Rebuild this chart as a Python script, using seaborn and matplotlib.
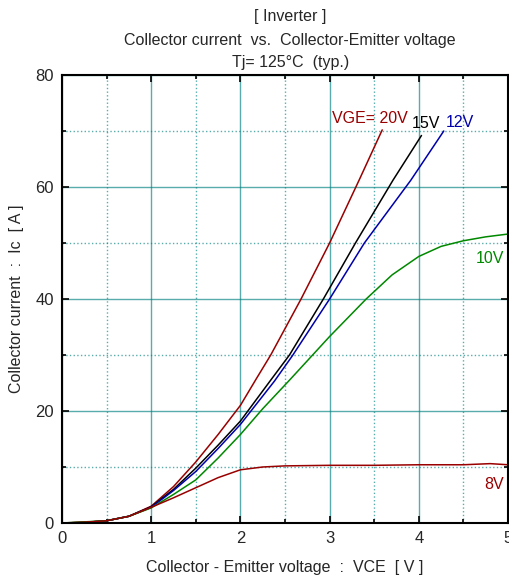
import numpy as np
import pandas as pd
import matplotlib
matplotlib.use("Agg")
import matplotlib.pyplot as plt
from matplotlib.ticker import MultipleLocator
import seaborn as sns

# VCE [V] / Ic [A], one pair of lists per gate voltage
vce_20 = [0, 0.25, 0.5, 0.75, 1.0, 1.25, 1.5, 1.75, 2.0, 2.18, 2.34, 2.68, 3.0, 3.33, 3.59]
ic_20 = [0, 0.1, 0.4, 1.2, 3.0, 6.5, 10.9, 15.8, 21.0, 25.8, 30, 40, 50, 61.2, 70.2]

vce_15 = [0, 0.25, 0.5, 0.75, 1.0, 1.25, 1.5, 1.75, 2.0, 2.33, 2.55, 2.93, 3.29, 3.71, 4.03]
ic_15 = [0, 0.1, 0.4, 1.2, 2.9, 6.0, 9.8, 13.9, 18.2, 25.3, 30, 40, 50, 61.2, 69.2]

vce_12 = [0, 0.25, 0.5, 0.75, 1.0, 1.25, 1.5, 1.75, 2.0, 2.38, 2.58, 3.0, 3.39, 3.91, 4.28]
ic_12 = [0, 0.1, 0.4, 1.2, 2.8, 5.8, 9.2, 13.3, 17.6, 25.3, 29.8, 40, 50, 61.2, 70]

vce_10 = [0, 0.25, 0.5, 0.75, 1.0, 1.25, 1.5, 1.75, 2.0, 2.25, 2.55, 3.0, 3.41, 3.7, 4.0, 4.25, 4.5, 4.75, 5.0]
ic_10 = [0, 0.2, 0.4, 1.2, 2.7, 5.1, 7.7, 11.6, 15.8, 20.4, 25.5, 33.3, 40, 44.3, 47.6, 49.4, 50.4, 51.1, 51.6]

vce_8 = [0, 0.25, 0.5, 0.75, 1.0, 1.25, 1.5, 1.75, 2.0, 2.25, 2.5, 3.0, 3.5, 4.0, 4.5, 4.8, 5.0]
ic_8 = [0, 0.15, 0.4, 1.2, 2.8, 4.5, 6.3, 8.1, 9.5, 10.0, 10.2, 10.3, 10.3, 10.4, 10.4, 10.6, 10.4]

curves = [
    ("20V", vce_20, ic_20, "#990000"),
    ("15V", vce_15, ic_15, "#000000"),
    ("12V", vce_12, ic_12, "#0000AA"),
    ("10V", vce_10, ic_10, "#008800"),
    ("8V", vce_8, ic_8, "#990000"),
]

# label text, anchor (VCE, Ic)
labels = [
    ("VGE= 20V", 3.03, 72.3, "#990000"),
    ("15V", 3.92, 71.4, "#000000"),
    ("12V", 4.30, 71.6, "#0000AA"),
    ("10V", 4.64, 47.3, "#008800"),
    ("8V", 4.73, 6.8, "#990000"),
]

sns.set_style("ticks")
plt.rcParams["font.family"] = ["Liberation Sans", "DejaVu Sans"]

fig = plt.figure(figsize=(5.09, 5.76), dpi=100)
ax = fig.add_axes([62 / 509, 1 - 523 / 576, 446 / 509, 448 / 576])

for name, x, y, c in curves:
    sns.lineplot(x=x, y=y, ax=ax, color=c, lw=1.1, sort=False, estimator=None)

for txt, x, y, c in labels:
    ax.text(x, y, txt, color=c, fontsize=11.5, va="center", ha="left")

ax.set_xlim(0, 5)
ax.set_ylim(0, 80)
ax.xaxis.set_major_locator(MultipleLocator(1))
ax.xaxis.set_minor_locator(MultipleLocator(0.5))
ax.yaxis.set_major_locator(MultipleLocator(20))
ax.yaxis.set_minor_locator(MultipleLocator(10))
ax.grid(which="major", color="#008080", lw=1.0, alpha=0.65)
ax.grid(which="minor", color="#008080", lw=1.0, ls=":", alpha=0.65)
ax.set_axisbelow(True)
ax.tick_params(which="both", direction="in", top=True, right=True, labelsize=12,
               color="black", width=1.2, pad=6)
ax.tick_params(which="major", length=5)
ax.tick_params(which="minor", length=3)
for s in ax.spines.values():
    s.set_linewidth(1.5)
    s.set_color("black")

ax.set_xlabel("Collector - Emitter voltage  :  VCE  [ V ]", fontsize=11.5, labelpad=10)
ax.set_ylabel("Collector current  :  Ic  [ A ]", fontsize=11.5, labelpad=8)

fig.text(0.57, 1 - 17 / 576, "[ Inverter ]", ha="center", va="center", fontsize=11.5)
fig.text(0.57, 1 - 40 / 576, "Collector current  vs.  Collector-Emitter voltage",
         ha="center", va="center", fontsize=11.5)
fig.text(0.57, 1 - 62 / 576, "Tj= 125°C  (typ.)", ha="center", va="center", fontsize=11.5)

fig.savefig("out.png", dpi=100)
